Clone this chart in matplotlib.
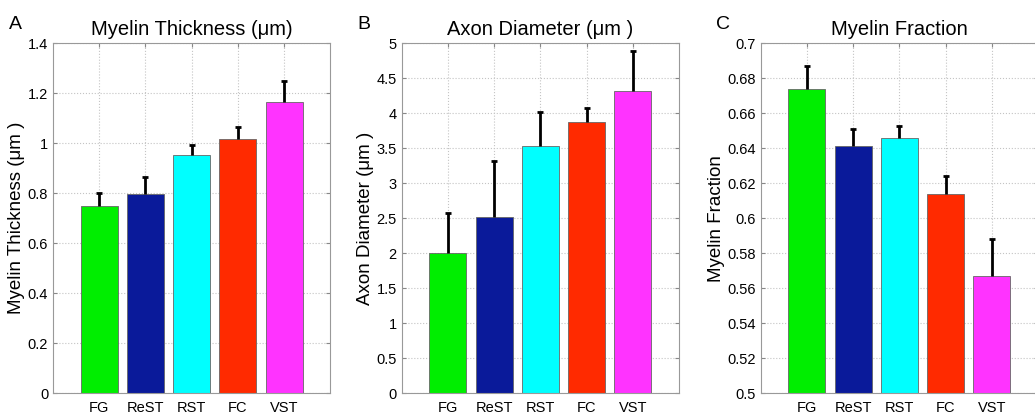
import numpy as np
import matplotlib
matplotlib.use("Agg")
import matplotlib.pyplot as plt

plt.rcParams['font.family'] = ['Liberation Sans', 'DejaVu Sans']

categories = ["FG", "ReST", "RST", "FC", "VST"]
bar_colors = ["#00ee00", "#0a1a9a", "#00ffff", "#ff2a00", "#ff33ff"]

thickness = [0.750, 0.797, 0.953, 1.015, 1.165]
thickness_err = [0.050, 0.066, 0.040, 0.050, 0.085]

diameter = [2.00, 2.52, 3.53, 3.88, 4.32]
diameter_err = [0.57, 0.80, 0.48, 0.20, 0.57]

fraction = [0.674, 0.641, 0.646, 0.614, 0.567]
fraction_err = [0.013, 0.010, 0.0065, 0.010, 0.021]

thickness_ticks = ["0", "0.2", "0.4", "0.6", "0.8", "1", "1.2", "1.4"]
diameter_ticks = ["0", "0.5", "1", "1.5", "2", "2.5", "3", "3.5", "4", "4.5", "5"]
fraction_ticks = ["0.5", "0.52", "0.54", "0.56", "0.58", "0.6", "0.62", "0.64", "0.66", "0.68", "0.7"]

panels = [
    ("A", "Myelin Thickness (\u03bcm)", "Myelin Thickness (\u03bcm )", thickness, thickness_err,
     (0, 1.4), thickness_ticks),
    ("B", "Axon Diameter (\u03bcm )", "Axon Diameter (\u03bcm )", diameter, diameter_err,
     (0, 5), diameter_ticks),
    ("C", "Myelin Fraction", "Myelin Fraction", fraction, fraction_err,
     (0.5, 0.7), fraction_ticks),
]

fig = plt.figure(figsize=(10.35, 4.15), dpi=100)
lefts = [0.0512, 0.388, 0.735]

for left, (letter, title, ylabel, vals, errs, ylim, ticklabels) in zip(lefts, panels):
    ax = fig.add_axes([left, 0.053, 0.268, 0.843])
    x = np.arange(1, len(categories) + 1)
    ax.bar(x, vals, width=0.8, color=bar_colors, edgecolor="#666666", linewidth=0.6, zorder=2)
    # upper-only error bars with a small cap at the top
    tops = np.array(vals) + np.array(errs)
    ax.vlines(x, vals, tops, color="black", linewidth=2, zorder=3)
    ax.plot(x, tops, linestyle="none", marker="_", markersize=4, markeredgewidth=2,
            color="black", zorder=3)
    ax.set_xlim(0, 6)
    ax.set_ylim(*ylim)
    ax.set_xticks(x)
    ax.set_xticklabels(categories, fontsize=10.5)
    ax.set_yticks([float(t) for t in ticklabels])
    ax.set_yticklabels(ticklabels, fontsize=10.5)
    ax.grid(True, linestyle=":", color="#c4c4c4", linewidth=0.8, zorder=0)
    ax.set_axisbelow(True)
    ax.tick_params(direction="in", length=3, color="#888888", top=True, right=True)
    ax.tick_params(axis="x", pad=6)
    for s in ax.spines.values():
        s.set_color("#999999")
        s.set_linewidth(0.8)
    ax.set_title(title, fontsize=14.5, pad=6)
    ax.set_ylabel(ylabel, fontsize=13.5, labelpad=2)
    ax.text(-0.16, 1.04, letter, transform=ax.transAxes, fontsize=14)

fig.savefig("out.png", dpi=100)
